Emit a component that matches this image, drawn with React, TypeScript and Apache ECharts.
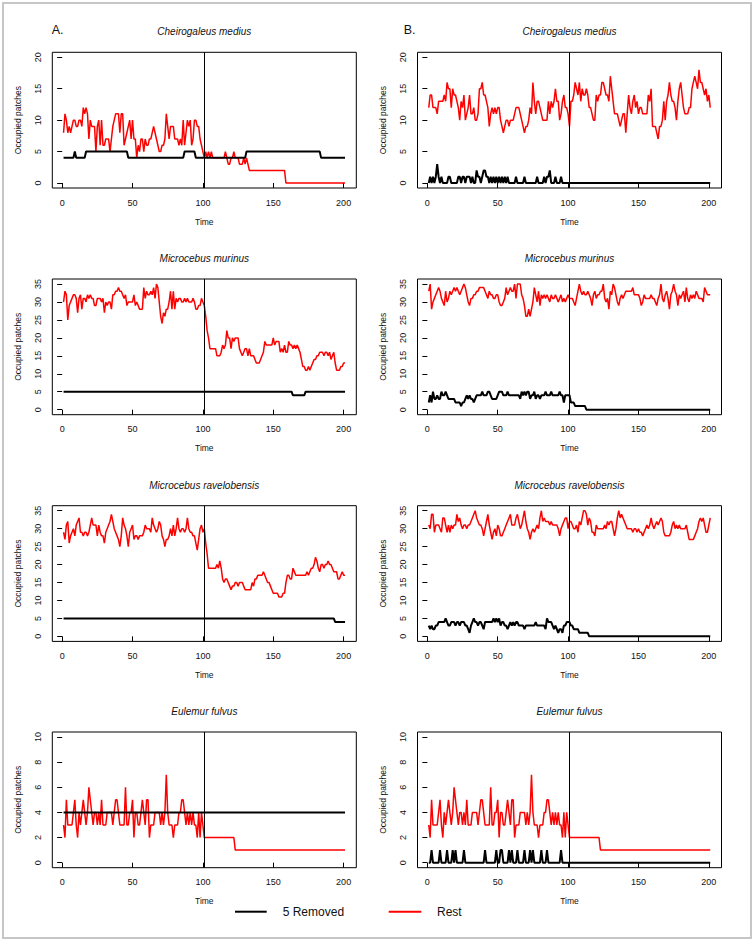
import React, { useEffect, useRef } from "react";
import * as echarts from "echarts";

// ---------------- DATA ----------------
const speciesNames = ["Cheirogaleus medius", "Microcebus murinus", "Microcebus ravelobensis", "Eulemur fulvus"];
const panelLetters = ["A.", "B."];
const seriesNames = ["5 Removed", "Rest"];
const xTicks = [0, 50, 100, 150, 200];
const yTicksCheirogaleus = [0, 5, 10, 15, 20];
const yTicksMicrocebus = [0, 5, 10, 15, 20, 25, 30, 35];
const yTicksEulemur = [0, 2, 4, 6, 8, 10];
const removalTime = 101;
const firstTime = 1;
const lastTime = 201;

// Cheirogaleus medius, A
const removedA1 = [
  4,4,4,4,4,4,4,4,5,4,
  4,4,4,4,4,4,5,5,5,5,
  5,5,5,5,5,5,5,5,5,5,
  5,5,5,5,5,5,5,5,5,5,
  5,5,5,5,5,5,4,4,4,4,
  4,4,4,4,4,4,4,4,4,4,
  4,4,4,4,4,4,4,4,4,4,
  4,4,4,4,4,4,4,4,4,4,
  4,4,4,4,4,4,5,5,5,5,
  5,5,5,5,4,4,4,4,4,4,
  4,4,4,4,4,4,4,4,4,4,
  4,4,4,4,4,4,4,4,4,4,
  4,4,4,4,4,4,4,4,4,4,
  5,5,5,5,5,5,5,5,5,5,
  5,5,5,5,5,5,5,5,5,5,
  5,5,5,5,5,5,5,5,5,5,
  5,5,5,5,5,5,5,5,5,5,
  5,5,5,5,5,5,5,5,5,5,
  5,5,5,4,4,4,4,4,4,4,
  4,4,4,4,4,4,4,4,4,4,
  4
];
const restA1 = [
  8,11,10,8,9,8,9,10,10,9,
  9,10,10,9,12,11,12,11,7,10,
  9,9,9,5,9,10,6,10,6,6,
  7,7,7,5,7,9,10,11,11,11,
  8,11,11,6,7,8,9,10,7,10,
  7,7,4,6,5,7,7,5,7,6,
  6,7,7,8,9,8,7,6,5,5,
  6,6,7,11,9,7,9,9,9,7,
  7,7,6,7,6,10,6,8,10,9,
  10,6,7,10,10,9,9,7,6,5,
  4,5,4,5,4,5,4,4,4,4,
  4,4,4,4,4,5,4,3,3,4,
  4,5,4,4,4,3,3,3,4,3,
  4,3,2,2,2,2,2,2,2,2,
  2,2,2,2,2,2,2,2,2,2,
  2,2,2,2,2,2,2,2,0,0,
  0,0,0,0,0,0,0,0,0,0,
  0,0,0,0,0,0,0,0,0,0,
  0,0,0,0,0,0,0,0,0,0,
  0,0,0,0,0,0,0,0,0,0,
  0
];
// Cheirogaleus medius, B
const removedB1 = [
  0,1,0,1,0,1,3,1,0,1,
  0,0,0,0,1,1,0,0,0,0,
  0,1,1,0,1,1,0,1,1,1,
  0,1,0,0,2,1,1,0,1,2,
  2,1,1,0,1,0,1,0,1,0,
  1,0,1,0,1,0,1,0,0,0,
  0,0,1,0,0,0,0,0,1,0,
  0,0,0,0,0,0,0,1,0,0,
  0,0,1,0,1,1,2,0,0,0,
  1,0,0,0,1,0,0,0,0,0,
  0,0,0,0,0,0,0,0,0,0,
  0,0,0,0,0,0,0,0,0,0,
  0,0,0,0,0,0,0,0,0,0,
  0,0,0,0,0,0,0,0,0,0,
  0,0,0,0,0,0,0,0,0,0,
  0,0,0,0,0,0,0,0,0,0,
  0,0,0,0,0,0,0,0,0,0,
  0,0,0,0,0,0,0,0,0,0,
  0,0,0,0,0,0,0,0,0,0,
  0,0,0,0,0,0,0,0,0,0,
  0
];
const restB1 = [
  12,14,14,12,12,12,11,13,13,13,
  13,14,13,16,15,15,12,15,14,14,
  13,12,10,13,12,14,10,11,12,14,
  11,11,12,10,10,11,15,15,16,14,
  14,13,12,9,11,12,11,12,11,12,
  12,10,9,8,9,10,10,9,10,10,
  10,11,12,12,12,11,10,9,8,9,
  9,10,12,11,16,13,11,13,13,12,
  11,10,10,10,10,13,11,13,12,13,
  15,13,13,10,11,13,14,12,12,11,
  9,13,13,14,16,15,14,16,13,15,
  14,14,15,14,12,12,11,10,10,14,
  13,14,14,16,16,15,14,14,13,17,
  15,13,11,11,11,10,9,10,11,11,
  8,11,14,12,11,13,14,12,13,11,
  12,12,11,11,11,11,14,13,15,9,
  9,9,8,7,9,9,10,13,10,13,
  14,16,14,13,13,12,10,13,15,16,
  14,12,11,11,11,12,12,15,16,17,
  16,15,18,16,16,15,14,15,13,14,
  12
];
// Microcebus murinus, A
const removedA2 = [
  5,5,5,5,5,5,5,5,5,5,
  5,5,5,5,5,5,5,5,5,5,
  5,5,5,5,5,5,5,5,5,5,
  5,5,5,5,5,5,5,5,5,5,
  5,5,5,5,5,5,5,5,5,5,
  5,5,5,5,5,5,5,5,5,5,
  5,5,5,5,5,5,5,5,5,5,
  5,5,5,5,5,5,5,5,5,5,
  5,5,5,5,5,5,5,5,5,5,
  5,5,5,5,5,5,5,5,5,5,
  5,5,5,5,5,5,5,5,5,5,
  5,5,5,5,5,5,5,5,5,5,
  5,5,5,5,5,5,5,5,5,5,
  5,5,5,5,5,5,5,5,5,5,
  5,5,5,5,5,5,5,5,5,5,
  5,5,5,5,5,5,5,5,5,5,
  5,5,5,4,4,4,4,4,4,4,
  4,4,5,5,5,5,5,5,5,5,
  5,5,5,5,5,5,5,5,5,5,
  5,5,5,5,5,5,5,5,5,5,
  5
];
const restA2 = [
  30,33,32,25,29,30,31,32,32,31,
  27,31,32,28,31,31,30,32,31,32,
  31,31,29,29,31,31,31,30,31,27,
  30,29,30,30,28,32,32,33,33,34,
  33,33,32,31,32,29,30,30,30,30,
  32,29,30,29,28,28,28,34,31,33,
  32,32,33,32,34,31,35,34,30,26,
  24,27,26,28,28,30,33,28,33,28,
  31,30,31,31,30,30,31,30,31,30,
  30,30,31,30,28,28,29,29,31,30,
  29,26,22,20,17,17,17,17,17,15,
  15,15,16,18,17,18,22,20,20,17,
  20,19,20,20,20,17,16,15,16,17,
  17,15,17,15,15,15,14,13,13,13,
  14,15,16,19,18,18,18,18,18,20,
  18,19,19,19,16,17,16,18,16,16,
  19,18,18,17,18,17,18,17,16,14,
  12,12,11,11,12,11,12,13,14,14,
  15,15,16,16,16,15,16,16,15,16,
  14,15,16,13,11,11,11,12,12,13,
  13
];
// Microcebus murinus, B
const removedB2 = [
  2,4,2,5,3,3,4,3,3,5,
  4,4,5,4,3,3,3,3,3,2,
  2,2,2,1,2,2,3,4,3,4,
  3,3,2,3,4,4,4,4,5,4,
  4,4,5,5,4,3,3,3,3,4,
  5,5,5,4,4,4,5,4,4,4,
  4,4,4,4,4,3,5,4,5,4,
  5,5,3,4,4,5,3,4,4,3,
  4,4,4,5,4,4,4,5,4,4,
  4,4,4,5,4,4,2,4,4,4,
  4,2,2,2,1,1,1,1,1,1,
  1,1,0,0,0,0,0,0,0,0,
  0,0,0,0,0,0,0,0,0,0,
  0,0,0,0,0,0,0,0,0,0,
  0,0,0,0,0,0,0,0,0,0,
  0,0,0,0,0,0,0,0,0,0,
  0,0,0,0,0,0,0,0,0,0,
  0,0,0,0,0,0,0,0,0,0,
  0,0,0,0,0,0,0,0,0,0,
  0,0,0,0,0,0,0,0,0,0,
  0
];
const restB2 = [
  33,35,28,30,31,32,33,34,33,31,
  30,29,33,30,31,33,32,33,34,33,
  34,33,32,33,34,35,34,32,30,29,
  31,31,32,32,33,33,34,34,34,34,
  33,32,31,33,32,32,31,31,32,32,
  30,29,29,30,31,34,32,33,34,33,
  33,35,31,35,35,35,32,31,29,26,
  26,28,26,28,30,34,32,30,33,29,
  32,31,32,31,32,31,30,32,31,31,
  32,31,30,31,32,30,31,30,31,32,
  31,31,31,30,29,31,33,35,33,32,
  33,32,32,33,32,31,29,32,33,31,
  32,32,33,33,35,31,30,31,28,33,
  32,35,34,32,30,29,31,32,31,32,
  33,33,33,33,33,34,32,32,32,32,
  31,29,30,32,31,31,31,31,32,31,
  31,30,29,31,32,35,31,30,32,33,
  31,28,32,33,35,33,32,29,32,31,
  32,33,30,34,31,30,32,31,32,31,
  33,32,31,31,31,30,34,33,32,32,
  32
];
// Microcebus ravelobensis, A
const removedA3 = [
  5,5,5,5,5,5,5,5,5,5,
  5,5,5,5,5,5,5,5,5,5,
  5,5,5,5,5,5,5,5,5,5,
  5,5,5,5,5,5,5,5,5,5,
  5,5,5,5,5,5,5,5,5,5,
  5,5,5,5,5,5,5,5,5,5,
  5,5,5,5,5,5,5,5,5,5,
  5,5,5,5,5,5,5,5,5,5,
  5,5,5,5,5,5,5,5,5,5,
  5,5,5,5,5,5,5,5,5,5,
  5,5,5,5,5,5,5,5,5,5,
  5,5,5,5,5,5,5,5,5,5,
  5,5,5,5,5,5,5,5,5,5,
  5,5,5,5,5,5,5,5,5,5,
  5,5,5,5,5,5,5,5,5,5,
  5,5,5,5,5,5,5,5,5,5,
  5,5,5,5,5,5,5,5,5,5,
  5,5,5,5,5,5,5,5,5,5,
  5,5,5,5,5,5,5,5,5,5,
  5,5,5,4,4,4,4,4,4,4,
  4
];
const restA3 = [
  29,27,31,32,26,28,29,30,28,31,
  32,33,29,29,28,29,29,28,29,31,
  33,31,31,31,28,31,29,28,28,26,
  29,30,31,32,34,32,30,29,28,27,
  25,28,33,31,30,28,25,29,30,31,
  27,28,28,27,28,28,28,29,31,30,
  30,30,29,33,31,30,29,30,32,31,
  28,27,25,27,27,28,30,28,31,28,
  30,33,30,29,30,30,29,30,33,30,
  29,29,28,28,26,24,27,30,31,29,
  30,26,23,19,19,19,19,19,19,20,
  19,21,19,16,15,16,16,15,14,13,
  14,14,15,15,14,15,15,15,14,13,
  13,13,13,13,15,14,16,16,17,17,
  17,17,18,17,16,15,15,14,13,12,
  12,12,12,11,11,11,12,12,15,17,
  17,16,16,19,18,17,17,17,17,17,
  17,17,17,18,17,18,19,19,20,22,
  21,19,18,20,20,19,20,20,21,20,
  20,19,18,18,18,16,16,17,18,17,
  17
];
// Microcebus ravelobensis, B
const removedB3 = [
  3,2,3,2,2,3,3,4,4,4,
  4,4,5,4,3,3,4,4,4,3,
  4,4,3,4,4,4,3,3,2,1,
  3,4,5,4,4,3,4,4,3,2,
  4,4,4,4,4,4,5,4,5,4,
  5,3,4,4,3,3,2,3,4,3,
  4,3,4,4,3,3,3,3,2,3,
  3,3,3,3,3,3,4,3,3,3,
  3,3,3,2,5,4,4,4,3,2,
  3,2,1,2,2,1,3,3,4,4,
  4,3,3,2,2,2,2,1,1,1,
  1,1,1,1,0,0,0,0,0,0,
  0,0,0,0,0,0,0,0,0,0,
  0,0,0,0,0,0,0,0,0,0,
  0,0,0,0,0,0,0,0,0,0,
  0,0,0,0,0,0,0,0,0,0,
  0,0,0,0,0,0,0,0,0,0,
  0,0,0,0,0,0,0,0,0,0,
  0,0,0,0,0,0,0,0,0,0,
  0,0,0,0,0,0,0,0,0,0,
  0
];
const restB3 = [
  31,30,34,34,29,31,31,31,30,29,
  33,33,31,29,31,29,31,30,31,31,
  34,32,33,31,30,31,31,30,31,31,
  32,33,34,35,33,32,31,31,30,28,
  30,32,34,31,29,27,29,30,28,31,
  30,28,28,29,30,31,32,33,34,31,
  31,31,33,34,32,30,31,33,35,32,
  30,29,27,29,30,29,30,31,30,33,
  35,32,33,32,32,32,31,32,31,31,
  31,31,30,28,30,31,32,33,33,30,
  32,32,31,30,30,31,29,32,31,33,
  35,35,34,31,33,32,29,29,28,31,
  30,30,30,30,30,31,30,32,31,32,
  32,30,28,30,33,35,33,34,33,32,
  31,30,30,30,30,29,30,30,29,30,
  29,29,28,29,30,31,30,31,33,31,
  30,31,32,31,32,33,32,29,28,28,
  28,28,29,31,32,30,31,30,31,30,
  30,30,30,31,29,27,27,27,27,28,
  29,30,32,33,32,33,31,29,29,31,
  33
];
// Eulemur fulvus, A
const removedA4 = [
  4,4,4,4,4,4,4,4,4,4,
  4,4,4,4,4,4,4,4,4,4,
  4,4,4,4,4,4,4,4,4,4,
  4,4,4,4,4,4,4,4,4,4,
  4,4,4,4,4,4,4,4,4,4,
  4,4,4,4,4,4,4,4,4,4,
  4,4,4,4,4,4,4,4,4,4,
  4,4,4,4,4,4,4,4,4,4,
  4,4,4,4,4,4,4,4,4,4,
  4,4,4,4,4,4,4,4,4,4,
  4,4,4,4,4,4,4,4,4,4,
  4,4,4,4,4,4,4,4,4,4,
  4,4,4,4,4,4,4,4,4,4,
  4,4,4,4,4,4,4,4,4,4,
  4,4,4,4,4,4,4,4,4,4,
  4,4,4,4,4,4,4,4,4,4,
  4,4,4,4,4,4,4,4,4,4,
  4,4,4,4,4,4,4,4,4,4,
  4,4,4,4,4,4,4,4,4,4,
  4,4,4,4,4,4,4,4,4,4,
  4
];
const restA4 = [
  3,2,5,3,3,3,3,4,5,3,
  2,4,3,4,5,4,3,4,6,5,
  4,3,4,4,3,4,3,5,3,3,
  3,4,4,4,4,3,4,5,5,4,
  3,3,3,3,6,3,3,4,4,5,
  2,4,4,3,3,4,5,4,3,5,
  5,2,3,3,3,4,4,4,4,3,
  4,3,4,7,4,3,3,3,2,3,
  3,3,4,4,5,5,4,3,4,3,
  4,3,4,3,3,2,4,2,4,3,
  2,2,2,2,2,2,2,2,2,2,
  2,2,2,2,2,2,2,2,2,2,
  2,2,1,1,1,1,1,1,1,1,
  1,1,1,1,1,1,1,1,1,1,
  1,1,1,1,1,1,1,1,1,1,
  1,1,1,1,1,1,1,1,1,1,
  1,1,1,1,1,1,1,1,1,1,
  1,1,1,1,1,1,1,1,1,1,
  1,1,1,1,1,1,1,1,1,1,
  1,1,1,1,1,1,1,1,1,1,
  1
];
// Eulemur fulvus, B
const removedB4 = [
  0,0,1,0,0,0,0,0,1,0,
  0,0,0,1,0,0,0,1,0,1,
  0,0,0,0,0,1,0,0,0,0,
  0,0,0,0,0,0,0,0,0,0,
  1,0,0,0,0,0,0,0,1,0,
  0,1,1,0,0,0,0,1,0,1,
  0,0,0,1,0,0,0,0,1,0,
  0,0,1,0,1,0,0,0,0,0,
  1,0,0,0,1,0,0,0,0,0,
  0,0,0,0,1,0,0,0,0,0,
  0,0,0,0,0,0,0,0,0,0,
  0,0,0,0,0,0,0,0,0,0,
  0,0,0,0,0,0,0,0,0,0,
  0,0,0,0,0,0,0,0,0,0,
  0,0,0,0,0,0,0,0,0,0,
  0,0,0,0,0,0,0,0,0,0,
  0,0,0,0,0,0,0,0,0,0,
  0,0,0,0,0,0,0,0,0,0,
  0,0,0,0,0,0,0,0,0,0,
  0,0,0,0,0,0,0,0,0,0,
  0
];
const restB4 = [
  3,2,5,3,3,3,3,4,5,3,
  2,4,3,4,5,4,3,4,6,5,
  4,3,4,4,3,4,3,5,3,3,
  3,4,4,4,4,3,4,5,5,4,
  3,3,3,3,6,3,3,4,4,5,
  2,4,4,3,3,4,5,4,3,5,
  5,2,3,3,3,4,4,4,4,3,
  4,3,4,7,4,3,3,3,2,3,
  3,3,4,4,5,5,4,3,4,3,
  4,3,4,3,3,2,4,2,4,3,
  2,2,2,2,2,2,2,2,2,2,
  2,2,2,2,2,2,2,2,2,2,
  2,2,1,1,1,1,1,1,1,1,
  1,1,1,1,1,1,1,1,1,1,
  1,1,1,1,1,1,1,1,1,1,
  1,1,1,1,1,1,1,1,1,1,
  1,1,1,1,1,1,1,1,1,1,
  1,1,1,1,1,1,1,1,1,1,
  1,1,1,1,1,1,1,1,1,1,
  1,1,1,1,1,1,1,1,1,1,
  1
];

// ---------------- LAYOUT / STYLE ----------------
const FONT = "'Liberation Sans', Arial, Helvetica, sans-serif";
const TEXT = "#111";
const RED = "#ff0000";
const colLeft = [52.3, 417.5];
const boxW = 304;
const rowTop = [52.3, 279, 505.7, 732];
const boxH = 135.7;

type Panel = { row: number; col: number; removed: number[]; rest: number[]; yTicks: number[] };
const panels: Panel[] = [
  { row: 0, col: 0, removed: removedA1, rest: restA1, yTicks: yTicksCheirogaleus },
  { row: 0, col: 1, removed: removedB1, rest: restB1, yTicks: yTicksCheirogaleus },
  { row: 1, col: 0, removed: removedA2, rest: restA2, yTicks: yTicksMicrocebus },
  { row: 1, col: 1, removed: removedB2, rest: restB2, yTicks: yTicksMicrocebus },
  { row: 2, col: 0, removed: removedA3, rest: restA3, yTicks: yTicksMicrocebus },
  { row: 2, col: 1, removed: removedB3, rest: restB3, yTicks: yTicksMicrocebus },
  { row: 3, col: 0, removed: removedA4, rest: restA4, yTicks: yTicksEulemur },
  { row: 3, col: 1, removed: removedB4, rest: restB4, yTicks: yTicksEulemur },
];

function toPairs(values: number[]) {
  return values.map((v, k) => [firstTime + k, v]);
}

function buildOption() {
  const xPad = 0.04 * (lastTime - firstTime);
  const grids: any[] = [];
  const xAxes: any[] = [];
  const yAxes: any[] = [];
  const series: any[] = [];
  const graphics: any[] = [];

  graphics.push({
    type: "rect",
    silent: true,
    shape: { x: 3, y: 3, width: 748, height: 935 },
    style: { fill: "none", stroke: "#c6c6c6", lineWidth: 2 },
  });

  panels.forEach((p, i) => {
    const left = colLeft[p.col];
    const top = rowTop[p.row];
    const yFirst = p.yTicks[0];
    const yLast = p.yTicks[p.yTicks.length - 1];
    const yPad = 0.04 * (yLast - yFirst);
    grids.push({
      left, top, width: boxW, height: boxH,
      show: true, borderColor: "#000", borderWidth: 1, backgroundColor: "rgba(0,0,0,0)",
    });
    xAxes.push({
      gridIndex: i, type: "value", min: firstTime - xPad, max: lastTime + xPad,
      axisLine: { show: false }, splitLine: { show: false },
      axisTick: { show: true, customValues: xTicks, length: 5, lineStyle: { color: "#000", width: 1 } },
      axisLabel: { customValues: xTicks, margin: 10, fontSize: 9, color: TEXT, fontFamily: FONT },
      name: "Time", nameLocation: "middle", nameGap: 29,
      nameTextStyle: { fontSize: 8.5, color: TEXT, fontFamily: FONT },
    });
    yAxes.push({
      gridIndex: i, type: "value", min: yFirst - yPad, max: yLast + yPad,
      axisLine: { show: false }, splitLine: { show: false },
      axisTick: { show: true, customValues: p.yTicks, length: 5, lineStyle: { color: "#000", width: 1 } },
      axisLabel: { customValues: p.yTicks, rotate: 90, margin: 10, fontSize: 9, color: TEXT, fontFamily: FONT },
      name: "Occupied patches", nameLocation: "middle", nameGap: 30,
      nameTextStyle: { fontSize: 8.5, color: TEXT, fontFamily: FONT },
    });
    series.push({
      type: "line", name: seriesNames[1], xAxisIndex: i, yAxisIndex: i,
      data: toPairs(p.rest), showSymbol: false, symbol: "none", silent: true, z: 2,
      lineStyle: { color: RED, width: 1.5 }, itemStyle: { color: RED },
      emphasis: { disabled: true },
    });
    series.push({
      type: "line", name: seriesNames[0], xAxisIndex: i, yAxisIndex: i,
      data: toPairs(p.removed), showSymbol: false, symbol: "none", silent: true, z: 3,
      lineStyle: { color: "#000", width: 2 }, itemStyle: { color: "#000" },
      emphasis: { disabled: true },
      markLine: {
        silent: true, symbol: ["none", "none"], label: { show: false },
        lineStyle: { color: "#000", width: 1, type: "solid" },
        emphasis: { disabled: true },
        data: [{ xAxis: removalTime }],
      },
    });
    graphics.push({
      type: "text", silent: true,
      x: left + boxW / 2, y: top - 20.5,
      style: {
        text: speciesNames[p.row], fontSize: 10, fontStyle: "italic", fontFamily: FONT,
        fill: TEXT, align: "center", verticalAlign: "middle",
      },
    });
  });

  graphics.push(
    { type: "text", silent: true, x: 51.7, y: 30,
      style: { text: panelLetters[0], fontSize: 12.5, fontFamily: FONT, fill: TEXT, align: "left", verticalAlign: "middle" } },
    { type: "text", silent: true, x: 403.7, y: 30,
      style: { text: panelLetters[1], fontSize: 12.5, fontFamily: FONT, fill: TEXT, align: "left", verticalAlign: "middle" } },
    { type: "line", silent: true, shape: { x1: 235, y1: 911.7, x2: 266.7, y2: 911.7 }, style: { stroke: "#000", lineWidth: 2 } },
    { type: "text", silent: true, x: 282.7, y: 911.7,
      style: { text: seriesNames[0], fontSize: 12, fontFamily: FONT, fill: TEXT, align: "left", verticalAlign: "middle" } },
    { type: "line", silent: true, shape: { x1: 388.7, y1: 911.7, x2: 421.3, y2: 911.7 }, style: { stroke: RED, lineWidth: 2 } },
    { type: "text", silent: true, x: 437, y: 911.7,
      style: { text: seriesNames[1], fontSize: 12, fontFamily: FONT, fill: TEXT, align: "left", verticalAlign: "middle" } },
  );

  return {
    animation: false,
    backgroundColor: "#fff",
    textStyle: { fontFamily: FONT },
    grid: grids,
    xAxis: xAxes,
    yAxis: yAxes,
    series,
    graphic: graphics,
  };
}

export default function App() {
  const ref = useRef<HTMLDivElement>(null);
  useEffect(() => {
    if (!ref.current) return;
    const chart = echarts.init(ref.current, null, { renderer: "svg" });
    chart.setOption(buildOption() as any);
    return () => chart.dispose();
  }, []);
  return (
    <div
      ref={ref}
      style={{ position: "absolute", left: 0, top: 0, width: 754, height: 940, background: "#fff" }}
    />
  );
}
